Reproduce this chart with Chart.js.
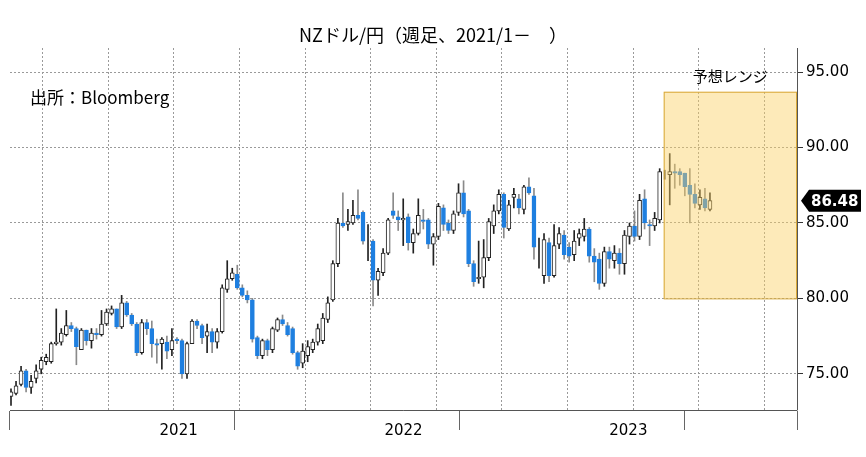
<!DOCTYPE html>
<html><head><meta charset="utf-8">
<script src="https://cdn.jsdelivr.net/npm/chart.js@4"></script>
<style>html,body{margin:0;padding:0;background:#fff}#c{display:block}</style>
</head><body>
<canvas id="c" width="866" height="457" style="width:866px;height:457px"></canvas>
<script>
const opens =[73.5,73.7,74.3,75.2,74.1,74.7,75.3,75.8,75.8,77.0,77.1,77.6,78.2,78.0,76.6,77.9,77.2,77.7,77.6,78.3,79.0,79.3,78.1,79.7,78.9,78.3,76.4,78.4,78.0,77.0,77.0,77.1,76.6,77.3,77.2,75.0,77.0,78.5,78.2,77.5,77.8,77.1,77.8,80.6,81.3,81.6,80.7,80.2,79.9,77.4,76.2,77.2,76.6,77.9,78.6,78.2,78.0,76.4,75.7,76.2,76.6,77.1,77.2,78.6,79.9,82.3,85.0,84.9,85.0,85.5,85.7,83.8,83.8,81.2,81.7,83.0,85.8,85.4,85.2,85.4,83.7,84.3,85.2,85.2,83.6,84.1,86.0,85.0,84.5,85.7,87.0,85.8,82.3,81.3,81.4,82.7,84.8,85.8,86.9,84.6,86.7,86.6,85.9,87.4,86.8,83.3,81.5,83.7,81.5,83.6,84.2,83.4,82.9,84.0,84.1,84.6,82.8,82.6,81.0,83.1,82.5,83.0,82.3,84.1,84.8,84.1,86.6,84.9,84.8,85.2,88.3,88.2,88.4,88.4,88.3,87.5,86.9,86.2,86.6,85.9];
const highs =[74.0,74.5,75.5,75.3,74.9,75.6,76.1,76.3,77.1,79.3,78.0,79.2,78.4,78.1,78.0,77.9,78.0,78.0,79.2,79.3,79.5,79.3,80.2,79.8,79.0,78.4,78.6,78.6,78.5,77.3,77.4,77.5,78.0,77.4,77.3,77.1,78.6,78.6,78.3,78.3,78.0,78.0,80.9,82.5,82.0,82.2,80.9,80.5,80.0,77.5,77.3,77.3,78.1,78.7,78.9,78.4,78.1,76.5,77.0,77.2,77.3,78.3,79.0,80.1,82.5,85.3,87.0,85.9,86.5,87.2,85.8,84.9,83.9,82.0,83.3,85.3,87.0,85.8,86.6,85.6,84.6,86.6,85.9,85.3,84.3,86.3,86.2,85.2,85.8,87.6,87.8,85.9,82.5,83.8,83.9,85.3,86.2,87.2,87.0,86.5,87.3,86.9,87.5,88.0,87.3,84.0,84.3,84.0,84.9,84.7,84.5,83.7,84.5,84.6,85.3,84.7,83.3,83.0,83.4,83.4,83.5,83.3,84.5,85.0,85.8,86.9,87.2,85.2,85.7,88.6,88.5,89.6,88.9,88.6,88.3,88.6,87.6,87.2,87.3,87.0];
const lows  =[72.9,73.6,74.2,73.8,73.7,74.4,75.0,75.6,75.7,76.9,76.9,77.5,77.8,75.6,76.6,76.9,76.7,77.3,77.5,78.2,78.9,78.0,78.0,78.8,78.2,76.2,76.3,77.6,76.1,75.7,75.3,76.0,76.2,77.0,74.7,74.7,77.0,78.0,77.0,76.4,76.4,76.7,77.7,80.4,81.2,80.6,80.1,79.7,77.1,76.0,76.0,76.2,76.4,77.8,78.2,77.5,76.3,75.3,75.4,75.8,76.4,76.9,77.0,78.4,79.8,82.1,84.7,84.5,84.9,85.2,83.6,82.5,79.5,80.2,81.5,82.9,85.3,84.5,83.5,83.2,83.0,84.2,84.6,83.3,82.2,83.9,84.5,84.3,84.3,85.5,85.4,82.1,80.8,81.0,80.7,82.5,84.3,85.6,84.0,84.5,86.0,85.6,85.6,86.9,82.6,82.0,81.0,81.1,81.4,83.3,82.6,82.4,82.5,83.5,83.8,82.4,81.1,80.6,80.8,82.0,82.0,81.6,81.6,83.6,83.8,83.9,84.6,83.5,84.5,85.0,87.9,86.2,87.3,87.5,86.8,85.0,86.0,85.9,85.8,85.8];
const closes=[73.8,74.2,75.2,74.1,74.5,75.2,75.9,76.1,77.0,77.1,77.7,78.2,78.0,76.8,77.9,77.2,77.7,77.6,78.3,79.1,79.3,78.1,79.7,78.9,78.3,76.4,78.4,78.0,77.0,76.9,77.3,76.5,77.2,77.2,75.0,77.0,78.5,78.2,77.4,77.8,77.1,77.8,80.7,81.3,81.7,80.7,80.2,79.9,77.3,76.2,77.2,76.6,78.0,78.6,78.3,77.6,76.4,75.5,76.5,76.8,77.1,78.0,78.7,79.7,82.3,85.0,84.8,85.1,85.5,85.3,83.8,83.8,81.2,81.8,83.0,85.2,85.5,85.2,85.3,83.7,84.3,85.5,85.1,83.6,84.1,86.1,84.9,84.5,85.6,87.0,85.6,82.3,81.1,81.4,82.7,85.1,85.8,86.9,84.7,86.2,86.9,86.0,87.4,87.0,83.4,83.3,83.9,81.5,83.5,84.3,82.9,82.8,83.8,84.3,84.6,82.8,82.4,81.0,83.1,82.6,83.0,82.3,84.2,84.8,84.1,86.5,85.0,84.8,85.3,88.4,88.3,88.4,88.3,88.2,87.4,86.9,86.3,86.7,86.0,86.48];
const yearLabels=['2021','2022','2023'];
const yTicks=[75,80,85,90,95];
const lastValue=86.48;
const rangeLow=80, rangeHigh=93.7, rangeStart=129.8;

const idx=opens.map((_,i)=>i);
const up=idx.map(i=>closes[i]>=opens[i]);
const X0=-0.2, WK=52.17, XMAX=X0+3*WK;

const overlay={id:'ov',
 afterDatasetsDraw(c){
  const {ctx,scales:{x,y},chartArea:a}=c;
  const l=x.getPixelForValue(rangeStart), r=a.right, t=y.getPixelForValue(rangeHigh), b=y.getPixelForValue(rangeLow);
  ctx.save();
  ctx.fillStyle='rgba(250,208,100,0.45)';ctx.fillRect(l,t,r-l,b-t);
  ctx.strokeStyle='#d9a93a';ctx.lineWidth=1;ctx.strokeRect(l+0.5,t+0.5,r-l-1,b-t);
  ctx.fillStyle='#000';ctx.font='15px "Noto Sans CJK JP"';ctx.textAlign='center';ctx.textBaseline='bottom';
  ctx.fillText('予想レンジ',(l+r)/2,t-8);
  ctx.textAlign='left';ctx.textBaseline='middle';ctx.font='17px "Noto Sans CJK JP"';
  ctx.fillText('出所：Bloomberg',a.left+20,98);
  ctx.textAlign='center';ctx.font='18px "Noto Sans CJK JP"';
  ctx.fillText('NZドル/円（週足、2021/1－　）',433,35);
  const yy=y.getPixelForValue(lastValue), bx=a.right+4;
  ctx.fillStyle='#000';ctx.beginPath();
  ctx.moveTo(bx,yy);ctx.lineTo(bx+8,yy-11);ctx.lineTo(bx+60,yy-11);ctx.lineTo(bx+60,yy+11);ctx.lineTo(bx+8,yy+11);ctx.closePath();ctx.fill();
  ctx.fillStyle='#fff';ctx.font='bold 15px "DejaVu Sans"';ctx.textAlign='left';
  ctx.fillText(lastValue.toFixed(2),bx+10,yy+1);
  ctx.strokeStyle='#555';ctx.beginPath();ctx.moveTo(a.right+0.5,a.top);ctx.lineTo(a.right+0.5,a.bottom);ctx.moveTo(a.left,a.bottom+0.5);ctx.lineTo(a.right,a.bottom+0.5);ctx.stroke();
  ctx.restore();
 }};

const qTicks=[];for(let k=0;k<=12;k++)qTicks.push(X0+k*WK/4);
const yrTicks=[];for(let k=0;k<3;k++){yrTicks.push(X0+k*WK);yrTicks.push(X0+(k+0.5)*WK);}yrTicks.push(XMAX);

new Chart(document.getElementById('c'),{
 type:'bar',
 data:{datasets:[
  {data:idx.map(i=>({x:i,y:[lows[i],highs[i]]})),backgroundColor:idx.map(i=>up[i]?'#222':'#8a8a8a'),barThickness:1,grouped:false,order:2},
  {data:idx.map(i=>({x:i,y:[opens[i],closes[i]]})),backgroundColor:idx.map(i=>up[i]?'#ffffff':'#1e7fe0'),borderColor:idx.map(i=>up[i]?'#222':'#1e7fe0'),borderWidth:1,borderSkipped:false,barThickness:4,grouped:false,order:1}
 ]},
 options:{responsive:false,animation:false,devicePixelRatio:1,
  layout:{padding:{top:48,left:10,right:0,bottom:0}},
  plugins:{legend:{display:false},tooltip:{enabled:false}},
  scales:{
   x:{type:'linear',min:X0,max:XMAX,offset:false,
      afterBuildTicks:s=>{s.ticks=qTicks.map(v=>({value:v}));},
      grid:{color:'#9a9a9a',drawTicks:false},border:{display:false,dash:[2,2]},
      ticks:{display:false},afterFit:s=>{s.height=0;}},
   x2:{type:'linear',position:'bottom',min:X0,max:XMAX,
      afterBuildTicks:s=>{s.ticks=yrTicks.map(v=>({value:v}));},
      grid:{drawOnChartArea:false,tickLength:20,color:c=>{const v=c.tick?c.tick.value:0;const k=Math.round((v-X0)/WK*2);return k%2===0?'#666':'rgba(0,0,0,0)';}},
      border:{display:true,color:'#bbb'},
      ticks:{maxRotation:0,autoSkip:false,padding:-8,color:'#000',font:{size:15,family:'"DejaVu Sans"'},
        callback:v=>{const k=Math.round((v-X0)/WK*2);return k%2===1?yearLabels[(k-1)/2]:'';}},
      afterFit:s=>{s.height=47;}},
   y:{position:'right',min:72.6,max:96.6,
      afterBuildTicks:s=>{s.ticks=yTicks.map(v=>({value:v}));},
      grid:{color:'#9a9a9a',tickLength:6,tickColor:'#333'},border:{display:false,dash:[2,2]},
      ticks:{color:'#000',padding:3,font:{size:15,family:'"DejaVu Sans"'},callback:v=>v.toFixed(2)},
      afterFit:s=>{s.width=69;}}
  }},
 plugins:[overlay]
});
</script></body></html>
